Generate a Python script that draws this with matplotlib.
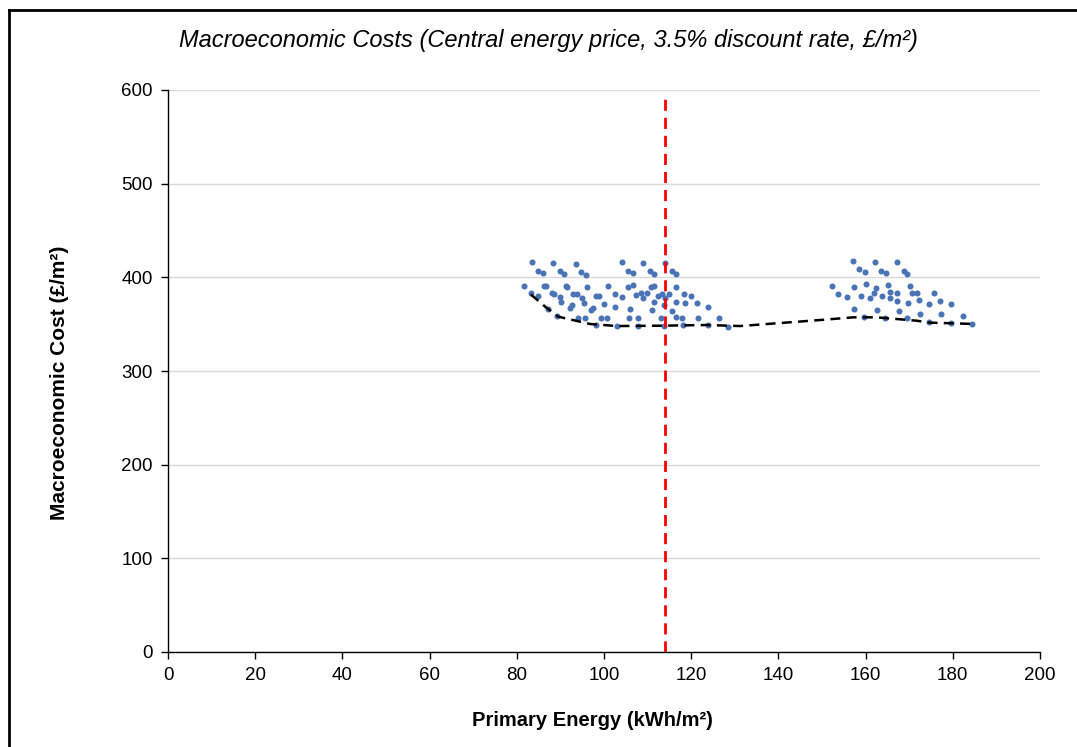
import matplotlib
matplotlib.use("Agg")
import matplotlib.pyplot as plt
from matplotlib.lines import Line2D

plt.rcParams['font.family'] = ['Liberation Sans', 'DejaVu Sans']

# Scatter: left cluster
x_left = [83.4, 88.4, 93.5, 104.2, 109.0, 114.0,
          84.9, 85.9, 89.9, 90.8, 94.7, 95.9, 105.6, 106.6, 110.5, 111.5, 115.7, 116.5,
          81.7, 86.2, 86.7, 91.3, 91.6, 96.2, 101.0, 105.6, 106.7, 110.7, 111.5, 116.4,
          83.2, 84.9, 88.0, 88.6, 89.9, 93.0, 93.7, 95.0, 98.1, 98.9, 102.5, 104.2,
          107.3, 108.4, 109.0, 109.9, 112.3, 113.2, 114.1, 115.0, 118.4, 119.9,
          90.1, 92.6, 92.2, 95.3, 97.4, 97.0, 100.1, 102.5, 106.0, 111.5, 111.1,
          113.8, 116.4, 118.5, 121.3, 123.8,
          87.1, 89.3, 94.1, 95.6, 99.2, 100.8, 105.7, 107.7, 113.0, 115.7, 116.4,
          118.0, 121.5, 126.4,
          98.1, 102.9, 107.9, 113.8, 118.2, 123.8, 128.5]
y_left = [416.0, 415.0, 414.2, 416.0, 415.0, 415.0,
          407.1, 405.0, 406.4, 403.5, 406.0, 402.8, 407.1, 405.0, 407.1, 403.5, 406.4, 403.5,
          391.1, 391.1, 391.1, 391.1, 390.0, 390.0, 391.1, 390.0, 392.2, 389.3, 391.1, 390.0,
          382.9, 380.4, 382.9, 381.8, 378.6, 381.8, 381.8, 377.6, 380.4, 380.4, 381.8, 378.6,
          381.1, 382.9, 377.6, 382.9, 380.4, 381.8, 377.6, 382.2, 381.8, 380.4,
          373.3, 370.4, 366.9, 372.2, 366.9, 365.1, 371.5, 368.7, 366.2, 373.3, 365.1,
          370.4, 373.3, 372.2, 372.2, 368.7,
          366.2, 358.7, 356.9, 356.9, 356.2, 356.9, 356.2, 356.9, 356.2, 364.0, 358.0,
          356.2, 356.9, 356.2,
          349.1, 348.0, 348.0, 348.0, 349.1, 349.1, 347.3]

# Scatter: right cluster
x_right = [157.2, 162.2, 167.1,
           158.6, 159.9, 163.5, 164.7, 168.7, 169.6,
           152.2, 157.3, 160.2, 162.3, 165.2, 170.2,
           153.7, 155.7, 158.9, 160.9, 162.0, 163.7, 165.6, 167.1, 170.6, 171.9, 175.7,
           165.6, 167.1, 169.8, 172.2, 174.5, 177.1, 179.6,
           157.4, 162.5, 167.6, 172.5, 177.4, 182.3,
           159.7, 164.5, 169.6, 174.6, 179.6, 184.5]
y_right = [417.4, 416.0, 416.0,
           408.5, 406.0, 407.1, 405.0, 407.1, 403.5,
           391.1, 390.0, 392.9, 389.0, 391.8, 391.1,
           381.8, 378.6, 380.4, 377.6, 383.6, 380.4, 384.7, 382.9, 383.6, 382.9, 383.6,
           377.6, 375.1, 372.9, 375.8, 371.5, 374.7, 371.5,
           366.2, 365.1, 364.0, 360.5, 360.5, 359.1,
           357.3, 356.2, 356.2, 351.9, 351.6, 350.2]

# Cost-optimal frontier (black dashed)
front_x = [83.2, 86.5, 89.5, 96.8, 102.9, 113.6, 123.5, 131.2, 149.5, 157.2,
           162.5, 167.1, 171.7, 174.8, 180.1, 184.7]
front_y = [381.8, 368.7, 358.0, 350.2, 348.0, 348.4, 349.1, 348.0, 354.4, 357.3,
           357.3, 355.5, 353.7, 351.6, 350.9, 350.2]

# Reference vertical line
ref_x = 114.0
ref_y = [0, 590]

x_ticks = [0, 20, 40, 60, 80, 100, 120, 140, 160, 180, 200]
y_ticks = [0, 100, 200, 300, 400, 500, 600]

fig = plt.figure(figsize=(10.77, 7.47), dpi=100)
ax = fig.add_axes([168/1077, 1-652/747, (1040-168)/1077, (652-90)/747])

ax.set_xlim(0, 200)
ax.set_ylim(0, 600)
ax.set_xticks(x_ticks)
ax.set_yticks(y_ticks)
ax.yaxis.grid(True, color='#d9d9d9', linewidth=1.0)
ax.set_axisbelow(True)
for s in ['top', 'right']:
    ax.spines[s].set_visible(False)
for s in ['left', 'bottom']:
    ax.spines[s].set_color('black')
    ax.spines[s].set_linewidth(1.0)
ax.tick_params(axis='both', direction='out', length=5, width=1, labelsize=13.5, colors='black')
ax.tick_params(axis='x', pad=6)
ax.tick_params(axis='y', pad=6)

blue = '#4a74b5'
ax.scatter(x_left + x_right, y_left + y_right, s=19, color=blue, linewidths=0, zorder=3)
ax.plot(front_x, front_y, color='black', linestyle=(0, (4, 2.5)), linewidth=1.8, zorder=4)
ax.plot([ref_x, ref_x], ref_y, color='#ff0000', linestyle=(0, (4, 2.5)), linewidth=2.0, zorder=5)

ax.set_xlabel('Primary Energy (kWh/m²)', fontsize=14.5, fontweight='bold')
ax.set_ylabel('Macroeconomic Cost (£/m²)', fontsize=15, fontweight='bold')
ax.xaxis.set_label_coords((592-168)/872, -(711-652)/562)
ax.yaxis.set_label_coords(-(168-69)/872, (652-383)/562)

fig.text(548/1077, 1-40/747, 'Macroeconomic Costs (Central energy price, 3.5% discount rate, £/m²)',
         fontsize=17, style='italic', ha='center', va='center')

# outer frame
fig.add_artist(Line2D([9/1077, 9/1077], [0, 1-10/747], transform=fig.transFigure,
                      color='black', linewidth=2))
fig.add_artist(Line2D([9/1077, 1], [1-10/747, 1-10/747], transform=fig.transFigure,
                      color='black', linewidth=2))

fig.savefig('out.png', dpi=100)
